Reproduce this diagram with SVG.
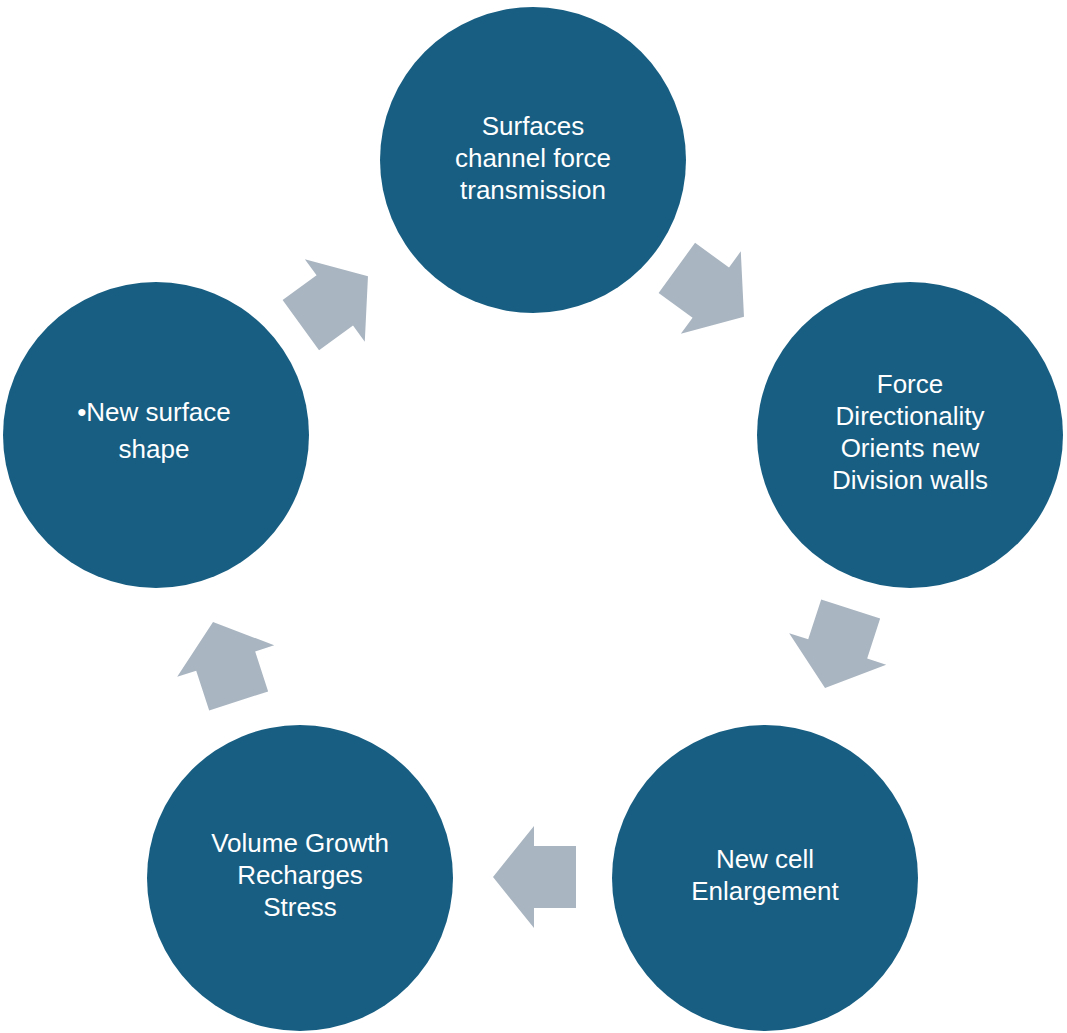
<svg xmlns="http://www.w3.org/2000/svg" width="1067" height="1033" viewBox="0 0 1067 1033">
<style>
.n{fill:#175E82}
.t{fill:#fff;font-family:"Liberation Sans",Arial,sans-serif;font-size:26px;text-anchor:middle}
.a{fill:#A9B5C1}
</style>
<defs>
<polygon id="arr" points="-41,-31 1,-31 1,-51 42,0 1,51 1,31 -41,31"/>
</defs>
<rect width="1067" height="1033" fill="#fff"/>
<g id="connectors">
<use href="#arr" class="a" transform="translate(535,877) rotate(180)"/>
<use href="#arr" class="a" transform="translate(226,662) rotate(-108)"/>
<use href="#arr" class="a" transform="translate(334,301) rotate(-36)"/>
<use href="#arr" class="a" transform="translate(710,292) rotate(36)"/>
<use href="#arr" class="a" transform="translate(838,648) rotate(108)"/>
</g>
<g id="n1"><circle class="n" cx="533" cy="160" r="153"/><text class="t" x="533" y="135">Surfaces<tspan x="533" dy="32">channel force</tspan><tspan x="533" dy="32">transmission</tspan></text></g>
<g id="n2"><circle class="n" cx="910" cy="435" r="153"/><text class="t" x="910" y="393">Force<tspan x="910" dy="32">Directionality</tspan><tspan x="910" dy="32">Orients new</tspan><tspan x="910" dy="32">Division walls</tspan></text></g>
<g id="n3"><circle class="n" cx="765" cy="878" r="153"/><text class="t" x="765" y="868">New cell<tspan x="765" dy="32">Enlargement</tspan></text></g>
<g id="n4"><circle class="n" cx="300" cy="878" r="153"/><text class="t" x="300" y="852">Volume Growth<tspan x="300" dy="32">Recharges</tspan><tspan x="300" dy="32">Stress</tspan></text></g>
<g id="n5"><circle class="n" cx="156" cy="435" r="153"/><text class="t" x="154" y="421">•New surface<tspan x="154" dy="37">shape</tspan></text></g>
</svg>
